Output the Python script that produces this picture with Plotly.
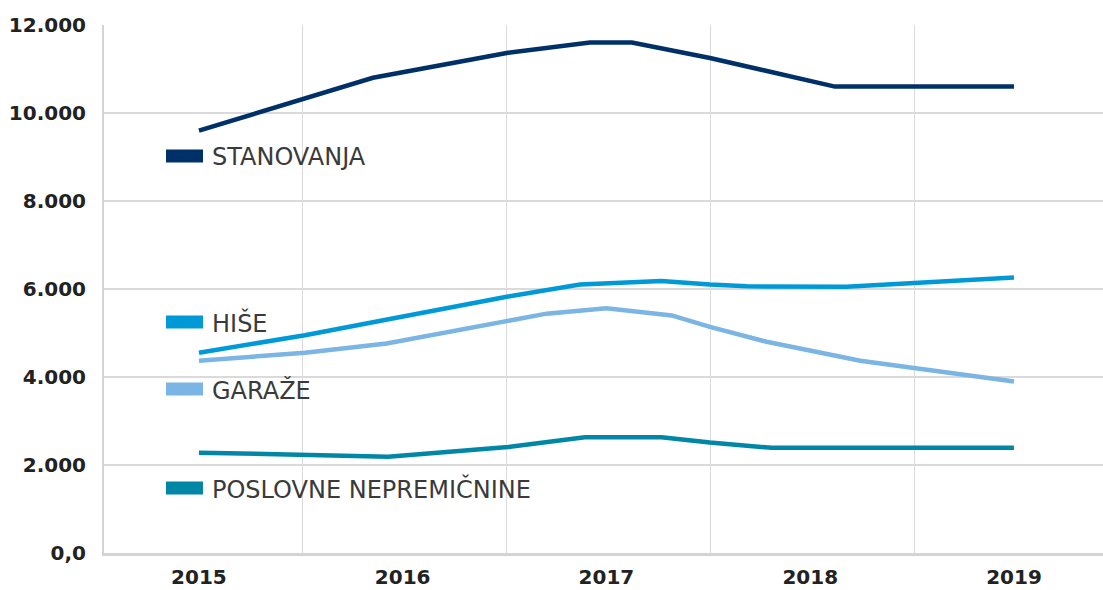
import plotly.graph_objects as go

# vertices (x in fractional years)
stanovanja_x = [2015, 2015.854, 2016.517, 2016.919, 2017.125, 2017.508, 2018.121, 2019]
stanovanja_y = [9600, 10800, 11370, 11600, 11600, 11250, 10600, 10600]

hise_x = [2015, 2015.52, 2015.937, 2016.517, 2016.87, 2016.968, 2017.27, 2017.508, 2017.688, 2018.177, 2018.486, 2019]
hise_y = [4550, 4950, 5320, 5830, 6100, 6120, 6180, 6100, 6060, 6050, 6120, 6260]

garaze_x = [2015, 2015.52, 2015.921, 2016.517, 2016.706, 2017.0, 2017.32, 2017.508, 2017.786, 2018.246, 2018.506, 2019]
garaze_y = [4370, 4550, 4760, 5290, 5440, 5560, 5400, 5140, 4800, 4370, 4200, 3900]

poslovne_x = [2015, 2015.52, 2015.929, 2016.517, 2016.894, 2017.27, 2017.508, 2017.81, 2019]
poslovne_y = [2280, 2240, 2190, 2410, 2630, 2630, 2510, 2390, 2390]

years = [2015, 2016, 2017, 2018, 2019]
y_ticks = [0, 2000, 4000, 6000, 8000, 10000, 12000]
y_labels = ["0,0", "2.000", "4.000", "6.000", "8.000", "10.000", "12.000"]

series = [
    ("STANOVANJA", stanovanja_x, stanovanja_y, "#003068"),
    ("HIŠE", hise_x, hise_y, "#0099d8"),
    ("GARAŽE", garaze_x, garaze_y, "#7ab5e3"),
    ("POSLOVNE NEPREMIČNINE", poslovne_x, poslovne_y, "#0087a6"),
]

W, H = 1103, 590
L, R, T, B = 104, 0, 25, 37

fig = go.Figure()
for name, x, y, col in series:
    fig.add_trace(go.Scatter(x=x, y=y, mode="lines", name=name,
                             line={"color": col, "width": 4.5}))

# legend labels sit inside the plot, at odd heights, like the original
legend_rows = [156, 322, 389, 488]


def px(xp):
    return (xp - L) / (W - L - R)


def py(yp):
    return (H - B - yp) / (H - T - B)


for (name, _, _, col), yrow in zip(series, legend_rows):
    fig.add_shape(type="rect", xref="paper", yref="paper",
                  x0=px(166), x1=px(203), y0=py(yrow + 6.5), y1=py(yrow - 6.5),
                  fillcolor=col, line_width=0)
    fig.add_annotation(xref="paper", yref="paper", x=px(210), y=py(yrow + 1),
                       text=name, showarrow=False, xanchor="left", yanchor="middle",
                       font={"family": "DejaVu Sans", "size": 24, "color": "#3a3a3a"})

fig.update_layout(
    width=W, height=H,
    margin={"l": L, "r": R, "t": T, "b": B},
    plot_bgcolor="white", paper_bgcolor="white",
    showlegend=False,
    xaxis={
        "range": [2014.534, 2019.437], "automargin": False,
        "tickmode": "array", "tickvals": years, "ticktext": [str(v) for v in years],
        "showgrid": False, "zeroline": False,
        "showline": True, "linecolor": "#d4d4d4", "linewidth": 3,
        "tickfont": {"family": "DejaVu Sans", "size": 20, "color": "#222222", "weight": 700},
        "ticks": "", "ticklabelstandoff": 4,
        "minor": {"tickvals": [2015.51, 2016.51, 2017.51, 2018.51],
                  "showgrid": True, "gridcolor": "#dadada", "gridwidth": 1, "ticks": ""},
    },
    yaxis={
        "range": [0, 12000], "automargin": False,
        "tickmode": "array", "tickvals": y_ticks, "ticktext": y_labels,
        "showgrid": True, "gridcolor": "#dadada", "gridwidth": 1.5, "zeroline": False,
        "showline": True, "linecolor": "#d4d4d4", "linewidth": 2,
        "tickfont": {"family": "DejaVu Sans", "size": 20, "color": "#222222", "weight": 700},
        "ticks": "", "ticklabelstandoff": 12,
    },
)

# drop the browser's default body margin so the figure fills the window
fig.write_html("out.html", config={"displayModeBar": False},
               post_script="document.body.style.margin='0';")
